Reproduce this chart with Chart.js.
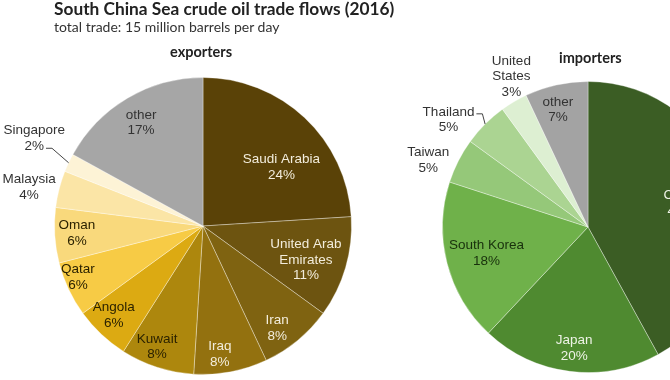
<!DOCTYPE html>
<html><head><meta charset="utf-8">
<script src="https://cdn.jsdelivr.net/npm/chart.js@4"></script>
<style>
html,body{margin:0;padding:0;width:670px;height:380px;overflow:hidden;background:#fff;}
#wrap{position:relative;width:670px;height:380px;overflow:hidden;}
canvas{position:absolute;left:0;top:0;}
.t{position:absolute;white-space:nowrap;color:#222;font-family:Lato,"Open Sans",sans-serif;line-height:1;}
</style></head><body>
<div id="wrap">
<canvas id="exp" width="670" height="380"></canvas>
<canvas id="imp" width="800" height="380"></canvas>
<div class="t" style="left:54px;top:0px;font-size:17.3px;font-weight:bold;">South China Sea crude oil trade flows (2016)</div>
<div class="t" style="left:54px;top:20px;font-size:14px;color:#333;">total trade: 15 million barrels per day</div>
<div class="t" style="left:170px;top:45px;font-size:14.5px;font-weight:bold;">exporters</div>
<div class="t" style="left:559px;top:51px;font-size:14.5px;font-weight:bold;">importers</div>
</div>
<script>
const exporterLabels = ['Saudi Arabia','United Arab Emirates','Iran','Iraq','Kuwait','Angola','Qatar','Oman','Malaysia','Singapore','other'];
const exporterShares = [24,11,8,8,8,6,6,6,4,2,17];
const importerLabels = ['China','Japan','South Korea','Taiwan','Thailand','United States','other'];
const importerShares = [42,20,18,5,5,3,7];

const exporterColors = ['#5a4207','#6d5410','#7f6311','#93710f','#ad870d','#dcaa12','#f7cb45','#f9d97c','#fbe5a6','#fdf3d6','#a6a6a6'];
const importerColors = ['#3b5d24','#4f8a30','#6fb14a','#95c879','#abd492','#ddefd2','#a3a3a3'];

const lineBreaks = {'United Arab Emirates':['United Arab','Emirates'],'United States':['United','States']};

// label placement: radius fraction, angle offset (deg), text colour, optional leader
const exporterPlace = [
  {f:0.66,da:10,c:'#f3eddc'},{f:0.73,da:2,c:'#f3eddc'},{f:0.85,da:3.6,c:'#f3eddc'},{f:0.87,da:3.3,c:'#f3eddc'},
  {f:0.87,da:2.8,c:'#2b2200'},{f:0.85,da:1.8,c:'#2b2200'},{f:0.91,da:3,c:'#2b2200'},{f:0.85,da:0.4,c:'#2b2200'},
  {f:1.2,da:-1.8,c:'#333'},{f:1.28,da:2.2,c:'#333',leader:1},{f:0.81,da:-0.4,c:'#333'}
];
const importerPlace = [
  {f:0.66,da:0,c:'#eef3e6'},{f:0.84,da:-0.7,c:'#eef3e6'},{f:0.72,da:0,c:'#18300c'},
  {f:1.19,da:-4.3,c:'#333'},{f:1.21,da:-7.4,c:'#333',leader:0},{f:1.16,da:3.6,c:'#333'},{f:0.83,da:-1.8,c:'#333'}
];

function labelPlugin(id, place){
  return {id, afterDatasetsDraw(chart){
    const ctx = chart.ctx, meta = chart.getDatasetMeta(0), ds = chart.data.datasets[0];
    meta.data.forEach((arc,i)=>{
      const p = place[i];
      const name = chart.data.labels[i];
      const lines = (lineBreaks[name]||[name]).concat([ds.data[i]+'%']);
      const mid0 = (arc.startAngle+arc.endAngle)/2;
      const mid = mid0 + p.da*Math.PI/180;
      const r = arc.outerRadius*p.f;
      const x = arc.x+Math.cos(mid)*r, y = arc.y+Math.sin(mid)*r;
      ctx.save();
      ctx.font = '13.5px "Liberation Sans", Arial, sans-serif';
      ctx.fillStyle = p.c; ctx.textAlign='center'; ctx.textBaseline='middle';
      const lh = 15.5, y0 = y-(lines.length-1)*lh/2;
      lines.forEach((t,k)=>ctx.fillText(t,x,y0+k*lh));
      if (p.leader !== undefined){
        const k = p.leader, w = ctx.measureText(lines[k]).width;
        const sx = x+w/2+2, sy = y0+k*lh+2;
        const ex = arc.x+Math.cos(mid0)*arc.outerRadius, ey = arc.y+Math.sin(mid0)*arc.outerRadius;
        ctx.strokeStyle='#444'; ctx.lineWidth=1;
        ctx.beginPath(); ctx.moveTo(sx,sy); ctx.lineTo(sx+6,sy); ctx.lineTo(ex,ey); ctx.stroke();
      }
      ctx.restore();
    });
  }};
}

function makePie(canvasId, labels, values, colors, place, pad){
  return new Chart(document.getElementById(canvasId), {
    type:'pie',
    data:{labels, datasets:[{data:values, backgroundColor:colors, borderColor:'rgba(255,255,255,0.35)', borderWidth:1}]},
    options:{responsive:false, animation:false, devicePixelRatio:1,
      layout:{padding:pad},
      plugins:{legend:{display:false}, tooltip:{enabled:false}}},
    plugins:[labelPlugin(canvasId+'Labels', place)]
  });
}

makePie('exp', exporterLabels, exporterShares, exporterColors, exporterPlace, {left:54,right:318,top:77,bottom:5});
makePie('imp', importerLabels, importerShares, importerColors, importerPlace, {left:442,right:66,top:81,bottom:7});
</script>
</body></html>
